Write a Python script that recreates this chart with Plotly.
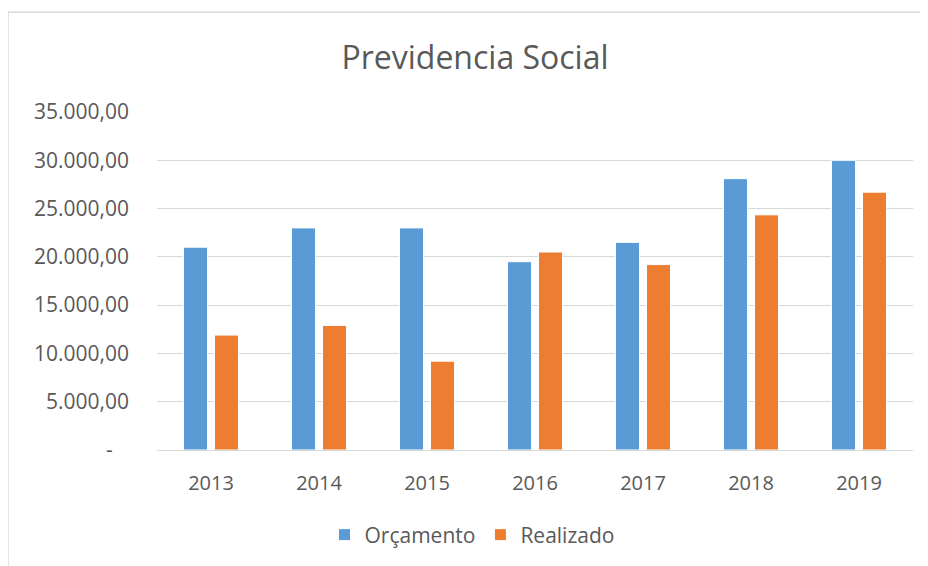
import plotly.graph_objects as go

years = ["2013", "2014", "2015", "2016", "2017", "2018", "2019"]
orcamento = [21000, 23000, 23000, 19500, 21500, 28100, 30000]
realizado = [11900, 12900, 9200, 20500, 19200, 24350, 26700]

tick_vals = [0, 5000, 10000, 15000, 20000, 25000, 30000, 35000]
tick_text = ["-\u00a0\u00a0\u00a0", "5.000,00", "10.000,00", "15.000,00", "20.000,00",
             "25.000,00", "30.000,00", "35.000,00"]

FONT = "Open Sans"
GRAY = "#595959"

# page body adds an offset; work in reference coordinates and subtract it
OFFX, OFFY = 8, 6
W, H = 928 - OFFX, 566 - OFFY
L, R, T, B = 157 - OFFX, 928 - 913, 110 - OFFY, 566 - 452
pw, ph = W - L - R, H - T - B

def px(x):
    return (x - OFFX - L) / pw

def py(y):
    return (H - B - (y - OFFY)) / ph

fig = go.Figure()
fig.add_trace(go.Bar(name="Orçamento", x=years, y=orcamento,
                     marker=dict(color="#5B9BD5", line=dict(color="white", width=1))))
fig.add_trace(go.Bar(name="Realizado", x=years, y=realizado,
                     marker=dict(color="#ED7D31", line=dict(color="white", width=1))))

fig.update_layout(
    width=W, height=H,
    margin=dict(l=L, r=R, t=T, b=B),
    paper_bgcolor="white", plot_bgcolor="white",
    barmode="group", bargap=0.426, bargroupgap=0.226,
    font=dict(family=FONT, color=GRAY, size=21),
    title=dict(text="Previdencia Social", x=(475 - OFFX) / W, xref="container", xanchor="center",
               y=1 - (56 - OFFY) / H, yref="container", yanchor="middle",
               font=dict(size=32, color=GRAY, family=FONT)),
    legend=dict(orientation="h", x=px(472), xanchor="center", y=py(538), yanchor="middle",
                font=dict(size=21, color=GRAY, family=FONT), itemwidth=30,
                traceorder="normal"),
    showlegend=True,
    shapes=[dict(type="rect", xref="paper", yref="paper",
                 x0=px(8), x1=px(960), y0=py(620), y1=py(9),
                 line=dict(color="#D9D9D9", width=1.5), fillcolor="rgba(0,0,0,0)",
                 layer="below")],
)
fig.update_yaxes(range=[0, 35000], tickvals=tick_vals, ticktext=tick_text,
                 showgrid=True, gridcolor="#D9D9D9", gridwidth=1,
                 zeroline=True, zerolinecolor="#D9D9D9", zerolinewidth=1,
                 showline=False, ticks="", ticklabelstandoff=27,
                 tickfont=dict(size=21, color=GRAY, family=FONT))
fig.update_xaxes(showline=True, linecolor="#D9D9D9", linewidth=1, ticks="",
                 ticklabelstandoff=15,
                 tickfont=dict(size=20, color=GRAY, family=FONT))

fig.write_html("out.html")
